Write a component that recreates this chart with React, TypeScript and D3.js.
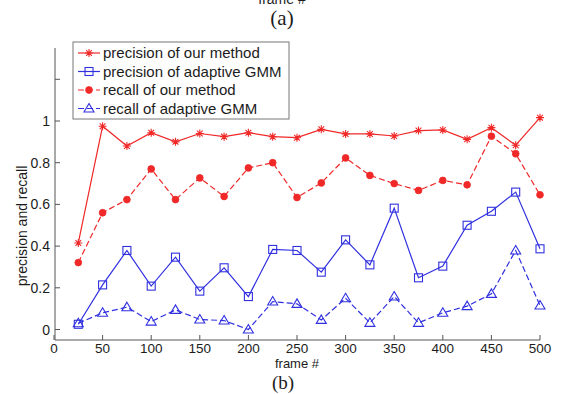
import * as d3 from 'd3';

const frames = [25, 50, 75, 100, 125, 150, 175, 200, 225, 250, 275, 300, 325, 350, 375, 400, 425, 450, 475, 500];

const precisionOurs = [0.415, 0.975, 0.88, 0.944, 0.9, 0.94, 0.925, 0.944, 0.925, 0.92, 0.96, 0.938, 0.938, 0.928, 0.954, 0.957, 0.912, 0.968, 0.884, 1.016];
const precisionGmm = [0.025, 0.214, 0.379, 0.208, 0.347, 0.184, 0.296, 0.158, 0.384, 0.379, 0.275, 0.43, 0.31, 0.582, 0.248, 0.304, 0.5, 0.567, 0.659, 0.387];
const recallOurs = [0.321, 0.56, 0.623, 0.77, 0.623, 0.727, 0.638, 0.775, 0.8, 0.633, 0.703, 0.823, 0.739, 0.7, 0.667, 0.715, 0.694, 0.927, 0.843, 0.646];
const recallGmm = [0.03, 0.08, 0.107, 0.038, 0.094, 0.048, 0.043, 0.0, 0.134, 0.123, 0.046, 0.15, 0.032, 0.158, 0.032, 0.08, 0.112, 0.171, 0.379, 0.115];

const xTicks = [0, 50, 100, 150, 200, 250, 300, 350, 400, 450, 500];
const yTicks = [0, 0.2, 0.4, 0.6, 0.8, 1, 1.2];
const yTickLabels = ['0', '0.2', '0.4', '0.6', '0.8', '1', ''];

const RED = '#f02828';
const BLUE = '#3030e0';
const TEXT = '#1c1c1c';
const FONT = '"Liberation Sans", Arial, sans-serif';
const SERIF = '"Liberation Serif", "Times New Roman", serif';

type Marker = 'star' | 'square' | 'dot' | 'triangle';

const seriesList: { name: string; values: number[]; color: string; dashed: boolean; marker: Marker }[] = [
  { name: 'precision of our method', values: precisionOurs, color: RED, dashed: false, marker: 'star' },
  { name: 'precision of adaptive GMM', values: precisionGmm, color: BLUE, dashed: false, marker: 'square' },
  { name: 'recall of our method', values: recallOurs, color: RED, dashed: true, marker: 'dot' },
  { name: 'recall of adaptive GMM', values: recallGmm, color: BLUE, dashed: true, marker: 'triangle' },
];

function MarkerShape({ kind, x, y, color }: { kind: Marker; x: number; y: number; color: string }) {
  if (kind === 'star') {
    const r = 4;
    const d = r * 0.72;
    return (
      <path
        d={`M${x - r},${y}H${x + r}M${x},${y - r}V${y + r}M${x - d},${y - d}L${x + d},${y + d}M${x - d},${y + d}L${x + d},${y - d}`}
        stroke={color}
        strokeWidth={1.1}
      />
    );
  }
  if (kind === 'square') {
    return <rect x={x - 4} y={y - 4} width={8} height={8} fill="none" stroke={color} strokeWidth={1.1} />;
  }
  if (kind === 'dot') {
    return <circle cx={x} cy={y} r={3.4} fill={color} stroke={color} strokeWidth={0.8} />;
  }
  return (
    <path d={`M${x},${y - 5}L${x + 5},${y + 3.5}L${x - 5},${y + 3.5}Z`} fill="none" stroke={color} strokeWidth={1.1} />
  );
}

export default function App() {
  const width = 564;
  const height = 394;
  const left = 55;
  const right = 540;
  const axisTop = 48;
  const axisBottom = 340;

  const x = d3.scaleLinear().domain([0, 500]).range([left - 1, right]);
  const y = d3.scaleLinear().domain([0, 1]).range([329.5, 121]);

  const line = d3
    .line<number>()
    .x((_, i) => x(frames[i]))
    .y((v) => y(v));

  const legendX = 73;
  const legendY = 42;
  const legendW = 216;
  const legendH = 77;
  const legendRows = [53, 71.5, 90, 108.5];

  return (
    <svg
      width={width}
      height={height}
      viewBox={`0 0 ${width} ${height}`}
      style={{ position: 'absolute', left: 0, top: 0, background: '#fff' }}
    >
      <rect x={0} y={0} width={width} height={height} fill="#fff" />

      {/* bottom of panel (a): its xlabel, partly outside the crop, and caption */}
      <text x={282} y={4} textAnchor="middle" fontFamily={FONT} fontSize={14} fill={TEXT}>
        frame #
      </text>
      <text x={282} y={25} textAnchor="middle" fontFamily={SERIF} fontSize={21} fill={TEXT}>
        (a)
      </text>

      {/* axes */}
      <line x1={left} x2={left} y1={axisTop} y2={axisBottom} stroke="#555" strokeWidth={1} />
      <line x1={left} x2={right} y1={axisBottom} y2={axisBottom} stroke="#555" strokeWidth={1} />

      {yTicks.map((t, i) => (
        <g key={`y${t}`}>
          <line x1={left} x2={left + 5} y1={y(t)} y2={y(t)} stroke="#555" />
          <text x={left - 5} y={y(t) + 5} textAnchor="end" fontFamily={FONT} fontSize={14} fill={TEXT}>
            {yTickLabels[i]}
          </text>
        </g>
      ))}

      {xTicks.map((t) => (
        <g key={`x${t}`}>
          <line x1={x(t)} x2={x(t)} y1={axisBottom} y2={axisBottom - 5} stroke="#555" />
          <text x={x(t)} y={353} textAnchor="middle" fontFamily={FONT} fontSize={13.5} fill={TEXT}>
            {t}
          </text>
        </g>
      ))}

      <text x={297} y={368} textAnchor="middle" fontFamily={FONT} fontSize={13} fill={TEXT}>
        frame #
      </text>
      <text
        transform={`translate(27,226) rotate(-90)`}
        textAnchor="middle"
        fontFamily={FONT}
        fontSize={14}
        fill={TEXT}
      >
        precision and recall
      </text>
      <text x={283} y={389} textAnchor="middle" fontFamily={SERIF} fontSize={19} fill={TEXT}>
        (b)
      </text>

      {/* series */}
      {seriesList.map((s) => (
        <g key={s.name}>
          <path
            d={line(s.values) ?? ''}
            fill="none"
            stroke={s.color}
            strokeWidth={1.2}
            strokeDasharray={s.dashed ? '6,3' : undefined}
          />
          {s.values.map((v, i) => (
            <MarkerShape key={i} kind={s.marker} x={x(frames[i])} y={y(v)} color={s.color} />
          ))}
        </g>
      ))}

      {/* legend */}
      <rect x={legendX} y={legendY} width={legendW} height={legendH} fill="#fff" stroke="#777" strokeWidth={1} />
      {seriesList.map((s, i) => (
        <g key={`lg${s.name}`}>
          <line
            x1={78}
            x2={100}
            y1={legendRows[i]}
            y2={legendRows[i]}
            stroke={s.color}
            strokeWidth={1.2}
            strokeDasharray={s.dashed ? '6,3' : undefined}
          />
          <MarkerShape kind={s.marker} x={89} y={legendRows[i]} color={s.color} />
          <text x={103} y={legendRows[i] + 5} fontFamily={FONT} fontSize={15} fill={TEXT}>
            {s.name}
          </text>
        </g>
      ))}
    </svg>
  );
}
